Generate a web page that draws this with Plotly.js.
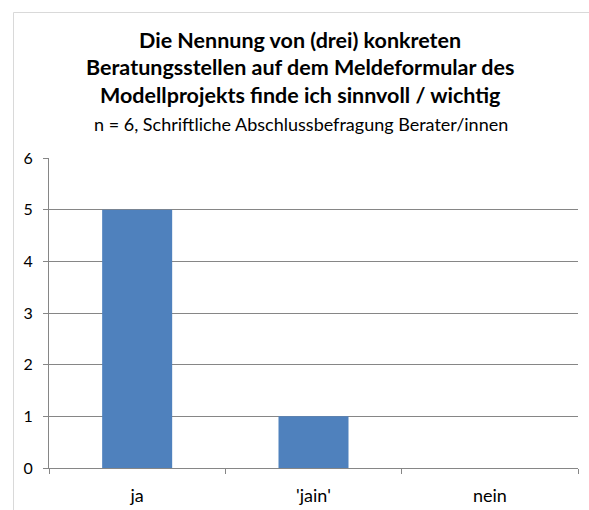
<!DOCTYPE html>
<html><head><meta charset="utf-8">
<script src="https://cdn.plot.ly/plotly-3.0.1.min.js"></script>
<style>html,body{margin:0;padding:0;overflow:hidden;background:#fff}</style>
</head><body>
<div id="chart" style="width:589px;height:510px"></div>
<script>
const categories = ["ja", "'jain'", "nein"];
const values = [5, 1, 0];
const titleLines = [
  "Die Nennung von (drei) konkreten",
  "Beratungsstellen auf dem Meldeformular des",
  "Modellprojekts finde ich sinnvoll / wichtig"
];
const subtitle = "n = 6, Schriftliche Abschlussbefragung Berater/innen";
const yTicks = [0, 1, 2, 3, 4, 5, 6];

const L = 49, R = 11, T = 158, B = 42, W = 589, H = 510;
const pw = W - L - R, ph = H - T - B;
const px2x = x => (x - L) / pw;
const py2y = y => 1 + (T - y) / ph;

const FONT = "Lato, 'Open Sans', sans-serif";
const titleY = [40, 67.5, 95];
const annotations = titleLines.map((t, i) => ({
  text: "<b>" + t + "</b>", xref: "paper", yref: "paper",
  x: px2x(300), y: py2y(titleY[i]), xanchor: "center", yanchor: "middle",
  showarrow: false, font: {family: FONT, size: 21.5, color: "#000"}
}));
annotations.push({
  text: subtitle, xref: "paper", yref: "paper",
  x: px2x(301), y: py2y(124), xanchor: "center", yanchor: "middle",
  showarrow: false, font: {family: FONT, size: 18, color: "#000"}
});

const data = [{
  type: "bar", x: categories, y: values,
  marker: {color: "#4f81bd", line: {width: 0}},
  hoverinfo: "none"
}];

const layout = {
  width: W, height: H,
  margin: {l: L, r: R, t: T, b: B, pad: 0},
  paper_bgcolor: "#fff", plot_bgcolor: "#fff",
  showlegend: false,
  bargap: 0.603,
  font: {family: FONT, size: 16, color: "#000"},
  xaxis: {
    type: "category", showgrid: false, zeroline: false,
    showline: true, linecolor: "#868686", linewidth: 1,
    ticks: "outside", tickson: "boundaries", ticklen: 5, tickcolor: "#868686",
    ticklabelstandoff: 11,
    tickfont: {family: FONT, size: 18, color: "#000"}
  },
  yaxis: {
    range: [0, 6], tickvals: yTicks, ticktext: yTicks.map(String),
    showgrid: true, gridcolor: "#868686", gridwidth: 1,
    zeroline: false, showline: true, linecolor: "#868686", linewidth: 1,
    ticks: "outside", ticklen: 5, tickcolor: "#868686",
    ticklabelstandoff: 7,
    tickfont: {family: FONT, size: 16, color: "#000"}
  },
  annotations: annotations,
  shapes: [{
    type: "rect", xref: "paper", yref: "paper",
    x0: px2x(13.5), x1: px2x(620), y0: py2y(540), y1: py2y(12.5),
    line: {color: "#d9d9d9", width: 1}, fillcolor: "rgba(0,0,0,0)", layer: "below"
  }]
};

Plotly.newPlot("chart", data, layout, {staticPlot: true, displayModeBar: false});
</script>
</body></html>
